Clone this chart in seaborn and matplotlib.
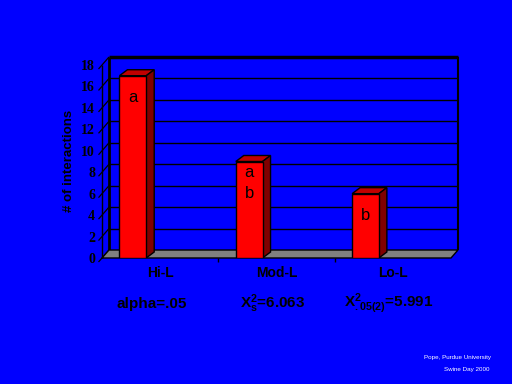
import matplotlib
matplotlib.use('Agg')
import numpy as np
import pandas as pd
import seaborn as sns
import matplotlib.pyplot as plt
from matplotlib.patches import Polygon

# ---- data ----
categories = ['Hi-L', 'Mod-L', 'Lo-L']
values = [17, 9, 6]
letters = [['a'], ['a', 'b'], ['b']]
letter_y = [[15], [8, 6], [4]]
yticks = list(range(0, 19, 2))
stats = ['alpha=.05', r'X$^{2}_{s}$=6.063', r'X$^{2}_{.05(2)}$=5.991']
credits = ['Pope, Purdue University', 'Swine Day 2000']

sns.set_theme(style='white')
plt.rcParams['font.family'] = ['Liberation Sans', 'DejaVu Sans']
plt.rcParams['mathtext.default'] = 'regular'

BLUE = '#0000FF'
fig = plt.figure(figsize=(5.12, 3.84), dpi=100, facecolor=BLUE)
ax = fig.add_axes([102 / 512, 126 / 384, 349 / 512, 193 / 384])
ax.set_facecolor('none')

df = pd.DataFrame({'cat': categories, 'val': values})
sns.barplot(data=df, x='cat', y='val', color='#FF0000', saturation=1,
            width=0.23, edgecolor='black', linewidth=1, ax=ax, zorder=5)
bars = list(ax.patches)

x0, x1 = -0.265, 2.735
ax.set_xlim(x0, x1)
ax.set_ylim(0, 18)
for s in ax.spines.values():
    s.set_visible(False)
ax.set_xlabel('')
ax.set_ylabel('')

px_x = (x1 - x0) / 349.0
px_y = 18.0 / 193.0
wdx, wdy = 7 * px_x, 8 * px_y
bdx, bdy = 8 * px_x, 6 * px_y

K = dict(color='black', clip_on=False, solid_capstyle='butt')
# back wall gridlines + left wall diagonals + diagonal ticks
for y in yticks:
    lw = 2.5 if y == 18 else 1.0
    if y > 0:
        ax.plot([x0 + wdx, x1 + wdx], [y + wdy, y + wdy], lw=lw, zorder=1, **K)
    ax.plot([x0 - 3.5 * px_x, x0 + wdx], [y - 4 * px_y, y + wdy], lw=0.9, zorder=1, **K)
# wall verticals
ax.plot([x0 + wdx, x0 + wdx], [wdy, 18 + wdy], lw=2, zorder=1, **K)
ax.plot([x1 + wdx, x1 + wdx], [wdy, 18 + wdy], lw=1.5, zorder=1, **K)
ax.plot([x0, x0], [0, 18], lw=1, zorder=6, **K)

# floor
floor = Polygon([(x0, 0), (x1, 0), (x1 + wdx, wdy), (x0 + wdx, wdy)],
                closed=True, fc='#808080', ec='black', lw=1, zorder=2, clip_on=False)
ax.add_patch(floor)

# 3D faces of bars
for p in bars:
    bx, w, h = p.get_x(), p.get_width(), p.get_height()
    top = Polygon([(bx, h), (bx + w, h), (bx + w + bdx, h + bdy), (bx + bdx, h + bdy)],
                  closed=True, fc='#C00000', ec='black', lw=1, zorder=4)
    side = Polygon([(bx + w, 0), (bx + w + bdx, bdy), (bx + w + bdx, h + bdy), (bx + w, h)],
                   closed=True, fc='#800000', ec='black', lw=1, zorder=4)
    ax.add_patch(top)
    ax.add_patch(side)

# letters
for i, (ls, ys) in enumerate(zip(letters, letter_y)):
    for l, y in zip(ls, ys):
        ax.text(i, y, l, ha='center', va='center', fontsize=12, color='black', zorder=10)

# ticks
ax.set_xticks([x0 + 0.5 + i for i in range(3)])
ax.set_xticklabels(categories, fontsize=10, fontweight='bold', color='black')
ax.set_xticks([x0 + 1 + i for i in range(2)], minor=True)
ax.tick_params(axis='x', which='major', length=0, pad=6)
ax.tick_params(axis='x', which='minor', length=3, width=1, color='black', direction='out', bottom=True)
ax.set_yticks(yticks)
ax.set_yticklabels([str(v) for v in yticks], fontsize=10, fontweight='bold',
                   family='Liberation Serif', color='black')
ax.tick_params(axis='y', length=0, pad=5)

fig.text(69 / 512, 1 - 161 / 384, '# of interactions', rotation=90, ha='center', va='center',
         fontsize=9.5, fontweight='bold', color='black')

for xc, s in zip([152, 273, 389], stats):
    fig.text(xc / 512, 1 - 304 / 384, s, ha='center', va='center', fontsize=11,
             fontweight='bold', color='black')

fig.text(491 / 512, 1 - 357 / 384, credits[0], ha='right', va='center', fontsize=4.5, color='white')
fig.text(489 / 512, 1 - 370 / 384, credits[1], ha='right', va='center', fontsize=4.5, color='white')

fig.savefig('out.png', dpi=100, facecolor=BLUE)
